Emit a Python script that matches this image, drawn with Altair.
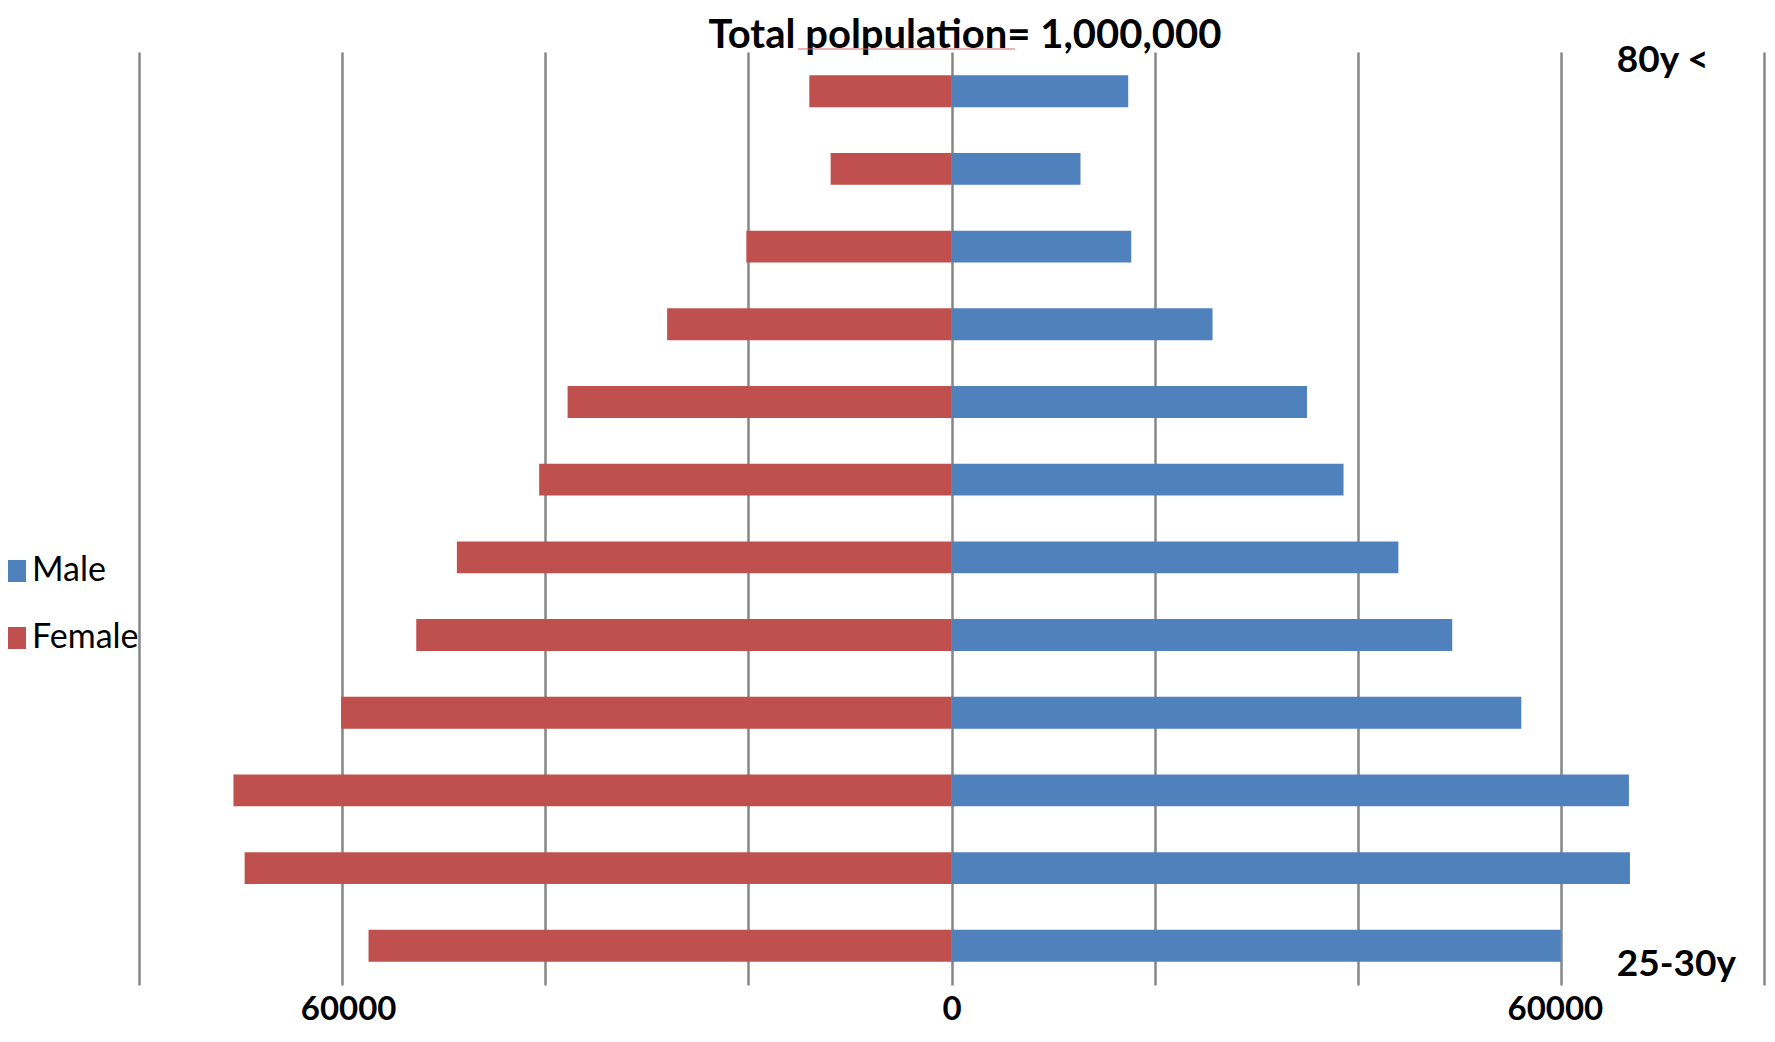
import altair as alt
import pandas as pd

# ---- data ----
ages = ["80y <", "75-80y", "70-75y", "65-70y", "60-65y", "55-60y",
        "50-55y", "45-50y", "40-45y", "35-40y", "30-35y", "25-30y"]
male = [17400, 12700, 17700, 25700, 35000, 38600, 44000, 49300, 56100, 66700, 66800, 60000]
female = [14000, 11900, 20200, 28000, 37800, 40600, 48700, 52700, 60100, 70700, 69600, 57400]
genders = ["Male", "Female"]
colors = ["#4F81BD", "#C0504D"]
grid_values = [-80000, -60000, -40000, -20000, 0, 20000, 40000, 60000, 80000]
shown_ticks = [-60000, 0, 60000]
title_text = "Total polpulation= 1,000,000"
top_label = "80y <"
bottom_label = "25-30y"
end_label_x = 65500

rows = []
for a, m, f in zip(ages, male, female):
    rows.append({"age": a, "gender": "Male", "value": m})
    rows.append({"age": a, "gender": "Female", "value": -f})
df = pd.DataFrame(rows)

FONT = "Lato"
label_expr = "(" + " || ".join(f"datum.value == {v}" for v in shown_ticks) + \
    ") ? format(abs(datum.value), 'd') : ''"

x_scale = alt.Scale(domain=[-80000, 80000], nice=False)
y_scale = alt.Scale(domain=ages, paddingInner=0.59, paddingOuter=0.3)

label_offset = {
    "condition": [
        {"test": "datum.value < 0", "value": 6},
        {"test": "datum.value > 0", "value": -6},
    ],
    "value": 0,
}

bars = alt.Chart(df).mark_bar().encode(
    y=alt.Y("age:N", scale=y_scale, axis=None),
    x=alt.X("value:Q", scale=x_scale,
            axis=alt.Axis(values=grid_values, grid=True, gridColor="#868686",
                          gridWidth=2.5, domain=False, ticks=False,
                          labelExpr=label_expr, labelFont=FONT, labelFontSize=33,
                          labelFontWeight="bold", labelColor="black",
                          labelPadding=8, title=None, labelFlush=False,
                          labelOverlap=False, labelOffset=label_offset)),
    color=alt.Color("gender:N", scale=alt.Scale(domain=genders, range=colors),
                    legend=alt.Legend(title=None, orient="none", legendX=-141, legendY=502,
                                      symbolType="square", symbolSize=484,
                                      symbolStrokeWidth=0, symbolOpacity=1,
                                      labelFont=FONT, labelFontSize=34,
                                      labelColor="black", labelOffset=0,
                                      rowPadding=33, padding=0, labelLimit=0)),
)

top_df = pd.DataFrame({"age": [top_label], "x": [end_label_x], "t": [top_label]})
bot_df = pd.DataFrame({"age": [bottom_label], "x": [end_label_x], "t": [bottom_label]})

top_text = alt.Chart(top_df).mark_text(
    align="left", baseline="alphabetic", dy=-19, font=FONT, fontSize=37,
    fontWeight="bold", color="black"
).encode(y=alt.Y("age:N", scale=y_scale, axis=None),
         x=alt.X("x:Q", scale=x_scale), text="t:N")

bot_text = alt.Chart(bot_df).mark_text(
    align="left", baseline="alphabetic", dy=30, font=FONT, fontSize=37,
    fontWeight="bold", color="black"
).encode(y=alt.Y("age:N", scale=y_scale, axis=None),
         x=alt.X("x:Q", scale=x_scale), text="t:N")

title_df = pd.DataFrame({"t": [title_text]})
title = alt.Chart(title_df).mark_text(
    align="center", baseline="alphabetic", font=FONT, fontSize=40,
    fontWeight="bold", color="black"
).encode(x=alt.value(826), y=alt.value(-4), text="t:N")

underline = alt.Chart(title_df).mark_rule(color="#E06666", strokeWidth=1.2).encode(
    x=alt.value(659), x2=alt.value(876), y=alt.value(-3)
)

chart = alt.layer(bars, top_text, bot_text, title, underline).properties(
    width=1625, height=933,
    padding={"left": 131, "top": 44, "right": 3, "bottom": 43},
    autosize=alt.AutoSizeParams(type="none"),
    background="white",
).configure_view(stroke=None)

chart.save("out.html", embed_options={"renderer": "svg", "actions": False})
